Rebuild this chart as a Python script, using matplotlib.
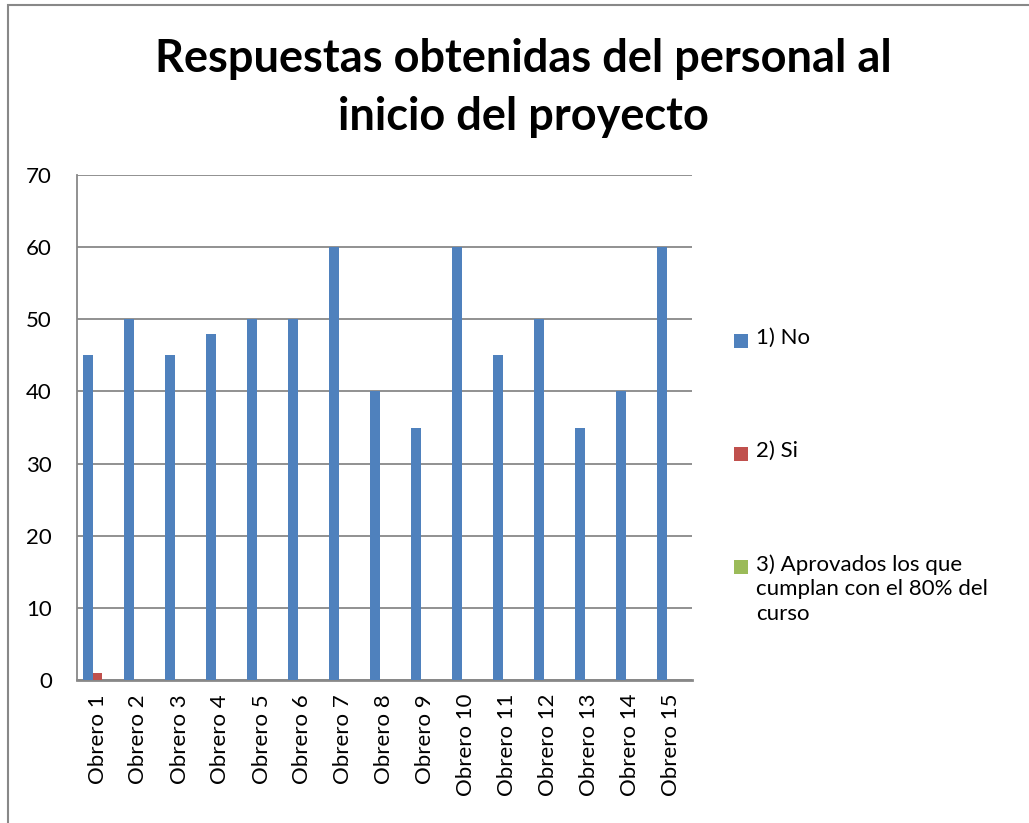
import matplotlib
matplotlib.use("Agg")
import matplotlib.pyplot as plt
import numpy as np
from matplotlib.patches import Rectangle

categories = [f"Obrero {i}" for i in range(1, 16)]
no_vals = [45, 50, 45, 48, 50, 50, 60, 40, 35, 60, 45, 50, 35, 40, 60]
si_vals = [1, 0, 0, 0, 0, 0, 0, 0, 0, 0, 0, 0, 0, 0, 0]
aprob_vals = [0] * 15
series_names = ["1) No", "2) Si", "3) Aprovados los que\ncumplan con el 80% del\ncurso"]
colors = ["#4F81BD", "#C0504D", "#9BBB59"]
title = "Respuestas obtenidas del personal al\ninicio del proyecto"

plt.rcParams['font.family'] = ['Lato', 'DejaVu Sans']

fig = plt.figure(figsize=(10.29, 8.23), dpi=100)
fig.patches.append(Rectangle((8/1029, -0.1), 1.2, 1 - 5/823 + 0.1, transform=fig.transFigure,
                             fill=False, edgecolor="#888888", linewidth=1.5))

ax = fig.add_axes([77/1029, 1 - 680/823, (692 - 77)/1029, (680 - 175)/823])
x = np.arange(len(categories))
w = 0.23
for k, (vals, c, name) in enumerate(zip([no_vals, si_vals, aprob_vals], colors, series_names)):
    ax.bar(x + (k - 1) * w, vals, width=w, color=c, label=name, zorder=3)

ax.set_xlim(-0.5, len(categories) - 0.5)
ax.set_ylim(0, 70)
ax.set_yticks(range(0, 71, 10))
ax.yaxis.grid(True, color="#888888", linewidth=1.3, zorder=0)
ax.set_xticks(x)
ax.set_xticklabels(categories, rotation=90, fontsize=16)
ax.tick_params(axis='y', labelsize=16, length=0, pad=18)
ax.tick_params(axis='x', length=0, pad=10)
for s in ["top", "right"]:
    ax.spines[s].set_visible(False)
ax.spines["left"].set_color("#888888")
ax.spines["left"].set_linewidth(1.3)
ax.spines["bottom"].set_color("#888888")
ax.spines["bottom"].set_linewidth(2)

fig.text(523/1029, 1 - 88/823, title, ha="center", va="center", fontsize=32.5,
         fontweight="bold", linespacing=1.45)

leg_y = [341, 454, 567]
handles, labels = ax.get_legend_handles_labels()
for h, lab, yy in zip(handles, labels, leg_y):
    fig.patches.append(Rectangle((734/1029, 1 - (yy + 7)/823), 14/1029, 14/823,
                                 transform=fig.transFigure, facecolor=h.patches[0].get_facecolor(),
                                 edgecolor="none"))
    fig.text(756/1029, 1 - (yy - 13)/823, lab, ha="left", va="top", fontsize=16, linespacing=1.3)

fig.savefig("out.png", dpi=100)
